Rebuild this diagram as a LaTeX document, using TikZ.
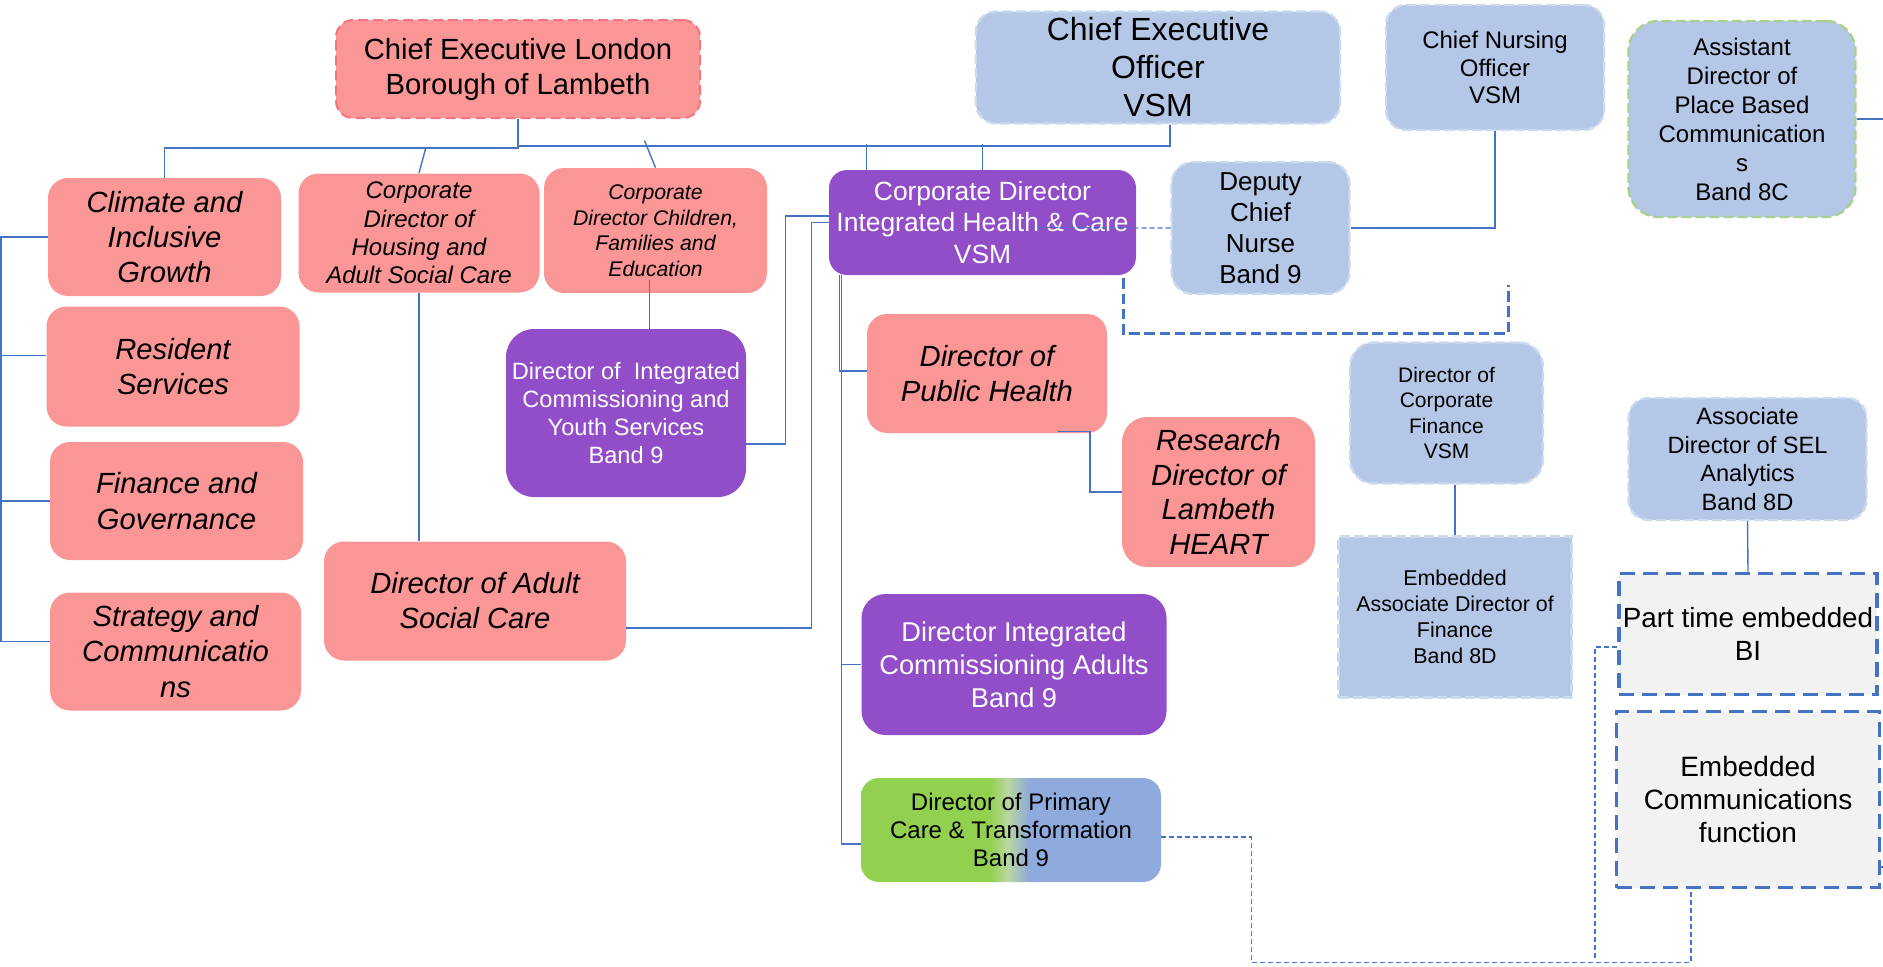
\documentclass[tikz,border=0pt]{standalone}
\usepackage{fontspec}
\setmainfont{Liberation Sans}
\usepackage{tikz}
\usetikzlibrary{shapes, arrows, positioning, calc}

\definecolor{councilpink}{HTML}{FA9696}
\definecolor{counciledge}{HTML}{F27680}
\definecolor{trustblue}{HTML}{B4C7E7}
\definecolor{trustedge}{HTML}{CCDAF0}
\definecolor{placegreen}{HTML}{A9D18E}
\definecolor{icbpurple}{HTML}{924EC8}
\definecolor{linkblue}{HTML}{4472C4}
\definecolor{embedgrey}{HTML}{F2F2F2}
\definecolor{pcgreen}{HTML}{92D050}
\definecolor{pcpale}{HTML}{B9D7A0}
\definecolor{pcblue}{HTML}{8FAADC}

\pgfdeclarehorizontalshading{pcgrad}{100bp}{color(0bp)=(pcgreen); color(46.5bp)=(pcgreen); color(49.5bp)=(pcpale); color(53bp)=(pcblue); color(100bp)=(pcblue)}

\newcommand{\fsz}[2]{\fontsize{#1pt}{#2pt}\selectfont}

\begin{document}
\begin{tikzpicture}[x=0.5pt, y=-0.5pt]
            \tikzstyle{council} = [rectangle, fill=councilpink, rounded corners=10pt, align=center, inner sep=1pt]
            \tikzstyle{trust} = [rectangle, fill=trustblue, draw=trustedge, line width=1.2pt, dash pattern=on 5pt off 2pt, rounded corners=10pt, align=center, inner sep=1pt]
            \tikzstyle{icb} = [rectangle, fill=icbpurple, text=white, rounded corners=10pt, align=center, inner sep=1pt]
            \tikzstyle{embed} = [rectangle, fill=embedgrey, draw=linkblue, line width=1.8pt, dash pattern=on 7.5pt off 4pt, align=center, inner sep=1pt]
            \tikzstyle{link} = [draw=linkblue, line width=0.7pt]
            \tikzstyle{dotlink} = [draw=linkblue, line width=0.6pt, dash pattern=on 2.5pt off 1.5pt]
            \tikzstyle{bracket} = [draw=linkblue, line width=1.5pt, dash pattern=on 5.3pt off 2.3pt]

            \fill[white] (0,0) rectangle (1883,966);
            \useasboundingbox (0,0) rectangle (1883,966);

            \node[council, draw=counciledge, line width=1pt, dash pattern=on 5pt off 2.5pt, rounded corners=8.5pt, minimum width=182pt, minimum height=49pt, font=\fsz{14.6}{17.5}] (cel) at (518,69) {Chief Executive London\\Borough of Lambeth};
            \node[trust, minimum width=182pt, minimum height=56pt, font=\fsz{16}{19}] (ceo) at (1158,67.5) {Chief Executive\\Officer\\VSM};
            \node[trust, minimum width=109pt, minimum height=62.5pt, font=\fsz{12}{13.8}] (cno) at (1495,67.5) {Chief Nursing\\Officer\\VSM};
            \node[trust, draw=placegreen, rounded corners=15pt, minimum width=113.5pt, minimum height=98pt, font=\fsz{12}{14.5}] (adpbc) at (1742,119) {Assistant\\Director of\\Place Based\\Communication\\s\\Band 8C};

            \node[council, minimum width=116.5pt, minimum height=59pt, font=\itshape\fsz{14.6}{17.5}] (climate) at (164.5,237) {Climate and\\Inclusive\\Growth};
            \node[council, minimum width=120.5pt, minimum height=59.5pt, font=\itshape\fsz{12}{14.2}] (housing) at (419,233) {Corporate\\Director of\\Housing and\\Adult Social Care};
            \node[council, minimum width=111.5pt, minimum height=62.5pt, font=\itshape\fsz{10.6}{12.8}] (children) at (655.5,230.5) {Corporate\\Director Children,\\Families and\\Education};
            \node[icb, rounded corners=9pt, minimum width=153.5pt, minimum height=52.5pt, font=\fsz{13.2}{15.6}] (cdihc) at (982.5,222.5) {Corporate Director\\Integrated Health \& Care\\VSM};
            \node[trust, rounded corners=11pt, minimum width=89pt, minimum height=66pt, font=\fsz{13}{15.6}] (dcn) at (1260.5,228) {Deputy\\Chief\\Nurse\\Band 9};

            \node[council, minimum width=126.5pt, minimum height=60pt, font=\itshape\fsz{14.6}{17.6}] (resident) at (173,366.5) {Resident\\Services};
            \node[council, minimum width=126.5pt, minimum height=59pt, font=\itshape\fsz{14.6}{17.6}] (finance) at (176.5,501) {Finance and\\Governance};
            \node[council, minimum width=125.5pt, minimum height=59pt, font=\itshape\fsz{14.6}{17.6}] (strategy) at (175.5,651.5) {Strategy and\\Communicatio\\ns};

            \node[icb, rounded corners=14pt, minimum width=120pt, minimum height=84pt, font=\fsz{11.8}{13.9}] (youth) at (626,413) {Director of~ Integrated\\Commissioning and\\Youth Services\\Band 9};
            \node[council, minimum width=151pt, minimum height=59.5pt, font=\itshape\fsz{14.6}{17.5}] (asc) at (475,601) {Director of Adult\\Social Care};
            \node[council, minimum width=120pt, minimum height=59.5pt, font=\itshape\fsz{14.6}{17.5}] (ph) at (987,373.5) {Director of\\Public Health};
            \node[council, rounded corners=12.5pt, minimum width=96.5pt, minimum height=75pt, font=\itshape\fsz{14.6}{17.4}] (research) at (1218.5,492) {Research\\Director of\\Lambeth\\HEART};
            \node[icb, rounded corners=12pt, minimum width=152.5pt, minimum height=70.5pt, font=\fsz{13.6}{16.4}] (adults) at (1014,664.5) {Director Integrated\\Commissioning Adults\\Band 9};
            \node[rectangle, shade, shading=pcgrad, rounded corners=9pt, align=center, inner sep=1pt, minimum width=150pt, minimum height=52pt, font=\fsz{12}{14.2}] (primary) at (1011,830) {Director of Primary\\Care \& Transformation\\Band 9};

            \node[trust, rounded corners=12pt, minimum width=96.5pt, minimum height=70.5pt, font=\fsz{10.5}{12.7}] (dcf) at (1446.5,413) {Director of\\Corporate\\Finance\\VSM};
            \node[trust, sharp corners, minimum width=116.5pt, minimum height=80.5pt, font=\fsz{10.7}{12.9}] (ead) at (1455,617) {Embedded\\Associate Director of\\Finance\\Band 8D};
            \node[trust, minimum width=119pt, minimum height=61pt, font=\fsz{11.8}{14.2}] (sel) at (1747.5,459) {Associate\\Director of SEL\\Analytics\\Band 8D};
            \node[embed, minimum width=129pt, minimum height=60.5pt, font=\fsz{13.9}{16.7}] (bi) at (1748,634) {Part time embedded\\BI};
            \node[embed, minimum width=131.5pt, minimum height=88pt, font=\fsz{14}{16.7}] (comms) at (1748,799.5) {Embedded\\Communications\\function};

            \coordinate (ceoleg) at ($(ceo.south)+(12,0)$);
            \coordinate (chleg) at ($(children.south)+(-6,-13)$);
            \coordinate (cdleg) at ($(cdihc.south west)+(11,0)$);
            \coordinate (cdleg2) at ($(cdihc.south west)+(13,0)$);
            \coordinate (lbus) at (1,237);
            \coordinate (brkend) at (1508,285);
            \coordinate (botjoin) at (1595,960);
            \coordinate (rimA) at (1883,119);

            \draw[link] (cel.south) -- ++(0,29) -| (climate.north);
            \draw[link] ($(cel.south)+(0,27)$) -| (ceoleg);
            \draw[link] (housing.north) -- ++(7,-26);
            \draw[link] (children.north) -- ++(-11,-27);
            \draw[link] ($(cdihc.north west)+(38,0)$) -- ++(0,-26);
            \draw[link] (cdihc.north) -- ++(0,-26);
            \draw[link] (housing.south) -- (housing.south |- asc.north);
            \draw[link] (chleg) -- (chleg |- youth.north);
            \draw[link] ($(youth.east)+(0,31)$) -- ++(39,0) |- ($(cdihc.west)+(0,-6.5)$);
            \draw[link] ($(asc.east)+(0,27)$) -- ++(185,0) |- (cdihc.west);
            \draw[link] (cdleg) |- ($(ph.west)+(0,-2.5)$);
            \draw[link] (cdleg2) |- ($(primary.west)+(0,14)$);
            \draw[link] (adults.west) -- (adults.west -| cdleg2);
            \draw[link] ($(ph.south)+(71,-2)$) -- ++(32,0) |- (research.west);
            \draw[link] (dcn.east) -| (cno.south);
            \draw[link] (ead.north) -- (ead.north |- dcf.south);
            \draw[link] (sel.south) -- (bi.north);
            \draw[link] (adpbc.east) -- (rimA);
            \draw[link] ($(comms.east)+(0,67.5)$) -- ++(4,0);

            \draw[link] (climate.west) -- (lbus) |- ($(strategy.west)+(0,-10)$);
            \draw[link] ($(resident.west)+(0,-11)$) coordinate (rsb) -- (rsb -| lbus);
            \draw[link] (finance.west) -- (finance.west -| lbus);

            \draw[dotlink] ($(cdihc.center)+(55,5)$) -- (dcn.west);
            \draw[bracket] ($(cdihc.south east)+(-13,3)$) -- ++(0,55) -| (brkend);
            \draw[dotlink] ($(primary.east)+(0,7)$) -- ++(90,0) |- ($(comms.south)+(-57,73)$) -- ($(comms.south)+(-57,0)$);
            \draw[dotlink] ($(bi.west)+(0,13)$) -| (botjoin);
        \end{tikzpicture}
\end{document}
